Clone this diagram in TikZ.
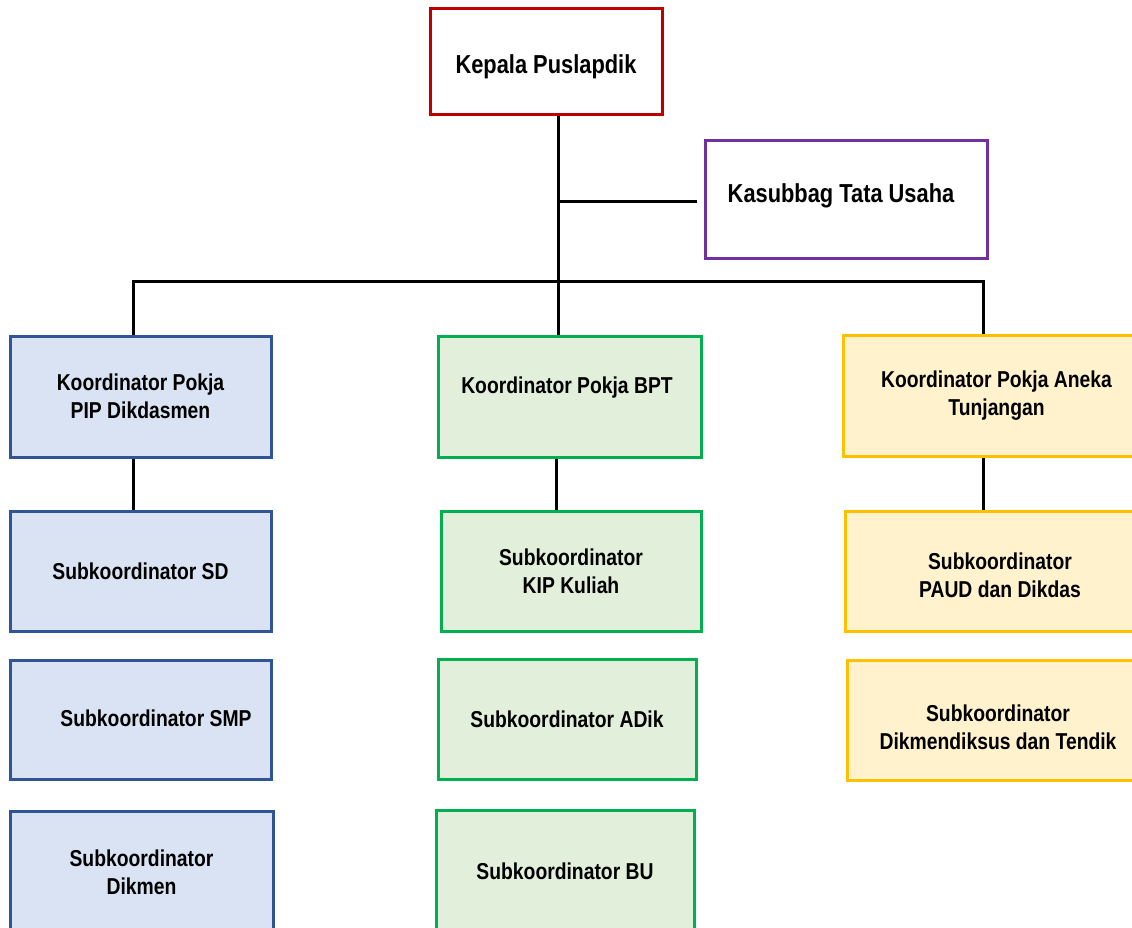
\documentclass[tikz,border=0pt]{standalone}
\usepackage{fontspec}
\setmainfont{Liberation Sans}[FakeStretch=0.84]
\definecolor{cRed}{HTML}{C00000}
\definecolor{cPurple}{HTML}{7030A0}
\definecolor{cBlue}{HTML}{2F5597}
\definecolor{fBlue}{HTML}{DAE3F3}
\definecolor{cGreen}{HTML}{00B050}
\definecolor{fGreen}{HTML}{E2EFDA}
\definecolor{cYellow}{HTML}{FFC000}
\definecolor{fYellow}{HTML}{FFF2CC}
\begin{document}
\begin{tikzpicture}[x=1pt,y=-1pt,
  txt/.style={inner sep=0pt, align=center, text=black, font=\bfseries\fontsize{23}{28}\selectfont},
  bigtxt/.style={txt, font=\bfseries\fontsize{26}{31}\selectfont},
  box/.style={txt, draw, line width=3pt, minimum width=#1},
  box/.default=261pt,
  blu/.style={box=#1, draw=cBlue, fill=fBlue},
  blu/.default=261pt,
  grn/.style={box=#1, draw=cGreen, fill=fGreen},
  grn/.default=260pt,
  yel/.style={box=#1, draw=cYellow, fill=fYellow},
  yel/.default=305pt,
  conn/.style={line width=3pt, draw=black}]
\clip (0,0) rectangle (1132,928);
\fill[white] (0,0) rectangle (1132,928);

% top
\node[box=232pt, draw=cRed, minimum height=106pt] (kep) at (546,62) {};
\node[bigtxt] (kepT) at (546,67) {Kepala Puslapdik};
\node[box=282pt, draw=cPurple, minimum height=117pt] (kas) at (846,199.5) {};
\node[bigtxt] (kasT) at (841,196) {Kasubbag Tata Usaha};

% left column
\node[blu, minimum height=121pt] (pip) at (140.5,396.5) {Koordinator Pokja\\PIP Dikdasmen};
\node[blu, minimum height=120pt] (sd) at (140.5,571) {Subkoordinator SD};
\node[blu, minimum height=119pt] (smp) at (140.5,719.5) {};
\node[txt] (smpT) at (156,718) {Subkoordinator SMP};
\node[blu=263pt, minimum height=122pt] (dikmen) at (141.5,872) {Subkoordinator\\Dikmen};

% middle column
\node[grn=263pt, minimum height=121pt] (bpt) at (569.5,396.5) {};
\node[txt] (bptT) at (567,388) {Koordinator Pokja BPT};
\node[grn, minimum height=120pt] (kip) at (571,571) {Subkoordinator\\KIP Kuliah};
\node[grn=258pt, minimum height=120pt] (adik) at (567,719) {Subkoordinator ADik};
\node[grn=258pt, minimum height=122pt] (bu) at (565,871) {Subkoordinator BU};

% right column
\node[yel=307pt, minimum height=121pt] (aneka) at (996.5,395.5) {Koordinator Pokja Aneka\\Tunjangan};
\node[yel, minimum height=120pt] (paud) at (997.5,571) {};
\node[txt] (paudT) at (1000,575) {Subkoordinator\\PAUD dan Dikdas};
\node[yel=303pt, minimum height=120pt] (dikt) at (998.5,720) {};
\node[txt] (diktT) at (998,727) {Subkoordinator\\Dikmendiksus dan Tendik};

% connectors
\coordinate (bus) at (558,281);
\coordinate (lb) at (133,281);
\coordinate (rb) at (983,281);
\coordinate (kasend) at (697,202);
\coordinate (mb) at (556,0);
\draw[conn] (kep.south -| bus) -- (bpt.north -| bus);
\draw[conn] (bus |- kasend) -- (kasend);
\draw[conn] (pip.north -| lb) -- (lb) -- (rb) -- (aneka.north -| rb);
\draw[conn] (pip.south -| lb) -- (sd.north -| lb);
\draw[conn] (bpt.south -| mb) -- (kip.north -| mb);
\draw[conn] (aneka.south -| rb) -- (paud.north -| rb);
\end{tikzpicture}
\end{document}
